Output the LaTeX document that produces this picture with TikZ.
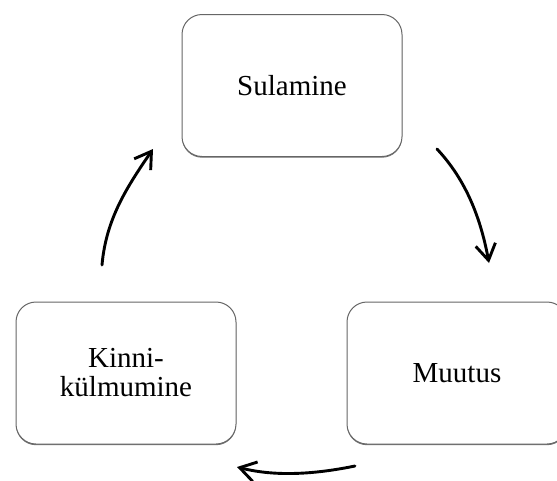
\documentclass[tikz,border=0pt]{standalone}
\usepackage{fontspec}
\setmainfont{Liberation Serif}
\usetikzlibrary{arrows.meta,shadows}
\begin{document}
\begin{tikzpicture}[x=1pt,y=-1pt,
  stagebox/.style={draw=black!60, line width=1pt, rounded corners=20pt,
    fill=white, minimum width=220pt, minimum height=142pt, align=center,
    inner sep=0pt, font=\fontsize{29}{29}\selectfont,
    drop shadow={shadow xshift=0pt, shadow yshift=-1.2pt, fill=black!55, opacity=1}},
  cyclearrow/.style={line width=2.9pt, line cap=round,
    -{Straight Barb[length=16pt,width=20pt,line width=2.9pt]}}]
  \useasboundingbox (0,0) rectangle (557,480);
  \begin{scope}
    \clip (0,0) rectangle (557,480);
    % three stages of the cycle
    \node[stagebox] (sul) at (292,85.5) {Sulamine};
    \node[stagebox] (muu) at (457,373) {Muutus};
    \node[stagebox] (kin) at (126,373) {Kinni-\\külmumine};
  \end{scope}
  % arrow ends placed around the boxes
  \coordinate (s1) at (437,149);
  \coordinate (e1) at (489,263);
  \coordinate (s2) at (355,466);
  \coordinate (e2) at (237,467);
  \coordinate (s3) at (102,265);
  \coordinate (e3) at (153,149);
  \draw[cyclearrow] (s1) .. controls +(30,32) and +(-8,-43) .. (e1);
  \draw[cyclearrow] (s2) .. controls +(-39,8) and +(39,10) .. (e2);
  \draw[cyclearrow] (s3) .. controls +(4,-46) and +(-26,38) .. (e3);
\end{tikzpicture}
\end{document}
